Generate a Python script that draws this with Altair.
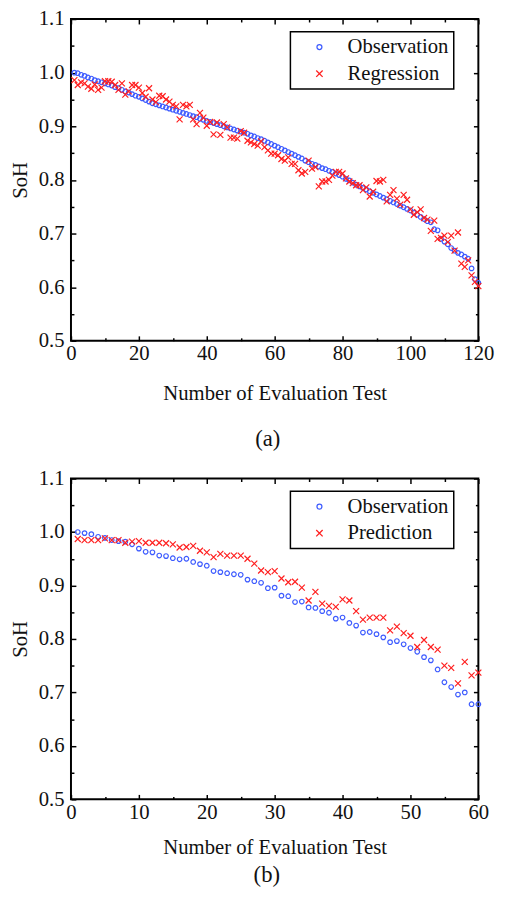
import altair as alt
import pandas as pd

# ---------------- data ----------------
x_a = list(range(1, 121))
obs_a = [1.000, 0.999, 0.996, 0.994, 0.991, 0.989, 0.986, 0.984, 0.982, 0.980,
         0.978, 0.976, 0.973, 0.971, 0.968, 0.965, 0.963, 0.960, 0.957, 0.955,
         0.952, 0.949, 0.946, 0.943, 0.941, 0.939, 0.937, 0.935, 0.933, 0.931,
         0.929, 0.927, 0.925, 0.923, 0.921, 0.919, 0.917, 0.914, 0.912, 0.910,
         0.908, 0.906, 0.904, 0.902, 0.900, 0.898, 0.896, 0.894, 0.892, 0.890,
         0.888, 0.886, 0.883, 0.881, 0.878, 0.876, 0.873, 0.870, 0.867, 0.864,
         0.861, 0.858, 0.855, 0.852, 0.849, 0.846, 0.843, 0.840, 0.836, 0.833,
         0.830, 0.828, 0.825, 0.822, 0.820, 0.817, 0.815, 0.812, 0.809, 0.806,
         0.802, 0.799, 0.795, 0.791, 0.788, 0.785, 0.782, 0.779, 0.776, 0.773,
         0.770, 0.767, 0.764, 0.761, 0.758, 0.755, 0.752, 0.749, 0.746, 0.743,
         0.739, 0.735, 0.731, 0.727, 0.723, 0.721, 0.708, 0.706, 0.690, 0.685,
         0.680, 0.673, 0.668, 0.664, 0.661, 0.657, 0.653, 0.635, 0.615, 0.608]
reg_a = [0.986, 0.977, 0.982, 0.980, 0.974, 0.970, 0.978, 0.968, 0.972, 0.984,
         0.984, 0.983, 0.977, 0.968, 0.980, 0.959, 0.965, 0.977, 0.977, 0.972,
         0.962, 0.955, 0.971, 0.950, 0.945, 0.957, 0.956, 0.950, 0.946, 0.940,
         0.937, 0.913, 0.940, 0.937, 0.940, 0.913, 0.904, 0.925, 0.916, 0.901,
         0.908, 0.885, 0.907, 0.884, 0.904, 0.898, 0.879, 0.879, 0.877, 0.891,
         0.888, 0.873, 0.870, 0.867, 0.864, 0.872, 0.861, 0.855, 0.849, 0.849,
         0.846, 0.839, 0.836, 0.842, 0.830, 0.830, 0.818, 0.812, 0.815, 0.836,
         0.821, 0.824, 0.788, 0.797, 0.797, 0.800, 0.808, 0.815, 0.815, 0.812,
         0.803, 0.797, 0.794, 0.790, 0.790, 0.781, 0.786, 0.769, 0.778, 0.798,
         0.797, 0.800, 0.760, 0.772, 0.781, 0.765, 0.754, 0.772, 0.763, 0.745,
         0.735, 0.740, 0.745, 0.729, 0.726, 0.705, 0.724, 0.690, 0.692, 0.696,
         0.684, 0.696, 0.668, 0.702, 0.644, 0.638, 0.650, 0.622, 0.610, 0.602]

x_b = list(range(1, 61))
obs_b = [1.000, 0.998, 0.996, 0.991, 0.989, 0.985, 0.983, 0.982, 0.977, 0.969,
         0.963, 0.962, 0.956, 0.955, 0.951, 0.949, 0.950, 0.944, 0.940, 0.937,
         0.927, 0.925, 0.923, 0.921, 0.920, 0.911, 0.908, 0.905, 0.895, 0.896,
         0.881, 0.880, 0.869, 0.870, 0.859, 0.858, 0.852, 0.849, 0.838, 0.840,
         0.830, 0.825, 0.812, 0.813, 0.809, 0.803, 0.794, 0.796, 0.790, 0.783,
         0.776, 0.766, 0.760, 0.743, 0.719, 0.710, 0.696, 0.700, 0.678, 0.678]
pred_b = [0.987, 0.985, 0.985, 0.985, 0.988, 0.985, 0.985, 0.980, 0.982, 0.983,
          0.980, 0.980, 0.980, 0.979, 0.977, 0.971, 0.972, 0.974, 0.965, 0.962,
          0.953, 0.959, 0.956, 0.956, 0.956, 0.950, 0.941, 0.928, 0.925, 0.927,
          0.913, 0.906, 0.907, 0.896, 0.872, 0.888, 0.866, 0.862, 0.860, 0.874,
          0.872, 0.852, 0.836, 0.840, 0.840, 0.840, 0.816, 0.823, 0.811, 0.806,
          0.785, 0.798, 0.785, 0.780, 0.750, 0.746, 0.717, 0.757, 0.732, 0.737]

x_major_a = [0, 20, 40, 60, 80, 100, 120]
x_minor_a = [10, 30, 50, 70, 90, 110]
x_major_b = [0, 10, 20, 30, 40, 50, 60]
x_minor_b = [5, 15, 25, 35, 45, 55]
y_major = [0.5, 0.6, 0.7, 0.8, 0.9, 1.0, 1.1]
y_minor = [0.55, 0.65, 0.75, 0.85, 0.95, 1.05]

FONT = "Liberation Serif"
BLUE = "#3D5BFF"
RED = "#FF1F1F"
CROSS = "M-1.3,-1.3L1.3,1.3M-1.3,1.3L1.3,-1.3"
TXT = "#111111"
MAJ = {"expr": "-5"}
MIN = {"expr": "-3"}


def tick_axis(orient, values, size):
    return alt.Axis(orient=orient, values=values, labels=False, domain=False,
                    grid=False, ticks=True, tickColor="black", tickWidth=1.5,
                    tickSize=size)


def panel(xs, obs, other, other_name, x_max, x_major, x_minor,
          caption, width, height, title_pad, cap_offset, cap_dx):
    n = len(xs)
    df = pd.DataFrame({
        "x": xs + xs,
        "y": obs + other,
        "series": ["Observation"] * n + [other_name] * n,
    })
    xscale = alt.Scale(domain=[0, x_max], nice=False, zero=False)
    yscale = alt.Scale(domain=[0.5, 1.1], nice=False, zero=False)
    dom = ["Observation", other_name]
    leg = alt.Legend(orient="none", legendX=223, legendY=13, title=None,
                     strokeColor="black", fillColor="white", padding=5,
                     rowPadding=5, symbolOffset=14, labelOffset=18,
                     symbolSize=25, labelFont=FONT, labelFontSize=21,
                     labelColor=TXT, symbolStrokeWidth=1.3, labelLimit=300)
    base = alt.Chart(df)
    pts = base.mark_point(filled=False, size=22, strokeWidth=1.2, opacity=1).encode(
        x=alt.X("x:Q", scale=xscale,
                axis=alt.Axis(values=x_major, labelFlush=False, ticks=True, tickSize=MAJ,
                              tickColor="black", tickWidth=1.5,
                              domain=False, grid=False, labelPadding=7,
                              labelFont=FONT, labelFontSize=21, labelColor=TXT,
                              title="Number of Evaluation Test", titleFont=FONT,
                              titleFontSize=21, titleFontWeight="normal",
                              titleColor=TXT, titlePadding=title_pad)),
        y=alt.Y("y:Q", scale=yscale,
                axis=alt.Axis(values=y_major, format=".1f", ticks=True, tickSize=MAJ,
                              tickColor="black", tickWidth=1.5,
                              domain=False, grid=False, labelPadding=12,
                              labelFont=FONT, labelFontSize=21, labelColor=TXT,
                              title="SoH", titleFont=FONT, titleFontSize=21,
                              titleFontWeight="normal", titleColor=TXT,
                              titlePadding=8)),
        color=alt.Color("series:N", scale=alt.Scale(domain=dom, range=[BLUE, RED]), legend=leg),
        shape=alt.Shape("series:N", scale=alt.Scale(domain=dom, range=["circle", CROSS]), legend=leg),
    )

    def tick_layer(xo, xv, yo, yv, size):
        return base.mark_point(opacity=0).encode(
            x=alt.X("x:Q", scale=xscale, title=None, axis=tick_axis(xo, xv, size)),
            y=alt.Y("y:Q", scale=yscale, title=None, axis=tick_axis(yo, yv, size)),
        )

    layer = alt.layer(
        pts,
        tick_layer("top", x_major, "right", y_major, MAJ),
        tick_layer("bottom", x_minor, "left", y_minor, MIN),
        tick_layer("top", x_minor, "right", y_minor, MIN),
    ).resolve_axis(x="independent", y="independent").properties(
        width=width, height=height,
        title=alt.TitleParams(caption, orient="bottom", anchor="middle", frame="group",
                              font=FONT, fontSize=23, fontWeight="normal", color=TXT,
                              offset=cap_offset, dx=cap_dx),
    )
    return layer


pa = panel(x_a, obs_a, reg_a, "Regression", 120, x_major_a, x_minor_a,
           "(a)", 414, 327, 20, 25, -7)
pb = panel(x_b, obs_b, pred_b, "Prediction", 60, x_major_b, x_minor_b,
           "(b)", 414, 326, 15, 7, -8)

chart = alt.concat(pa, pb, columns=1, spacing=15).resolve_scale(
    color="independent", shape="independent"
).properties(
    padding={"left": 0, "top": -8, "right": 5, "bottom": 0}
).configure_view(stroke="black", strokeWidth=2).configure_legend(strokeWidth=1.5)

chart.save("out.html", embed_options={"renderer": "svg", "actions": False})
